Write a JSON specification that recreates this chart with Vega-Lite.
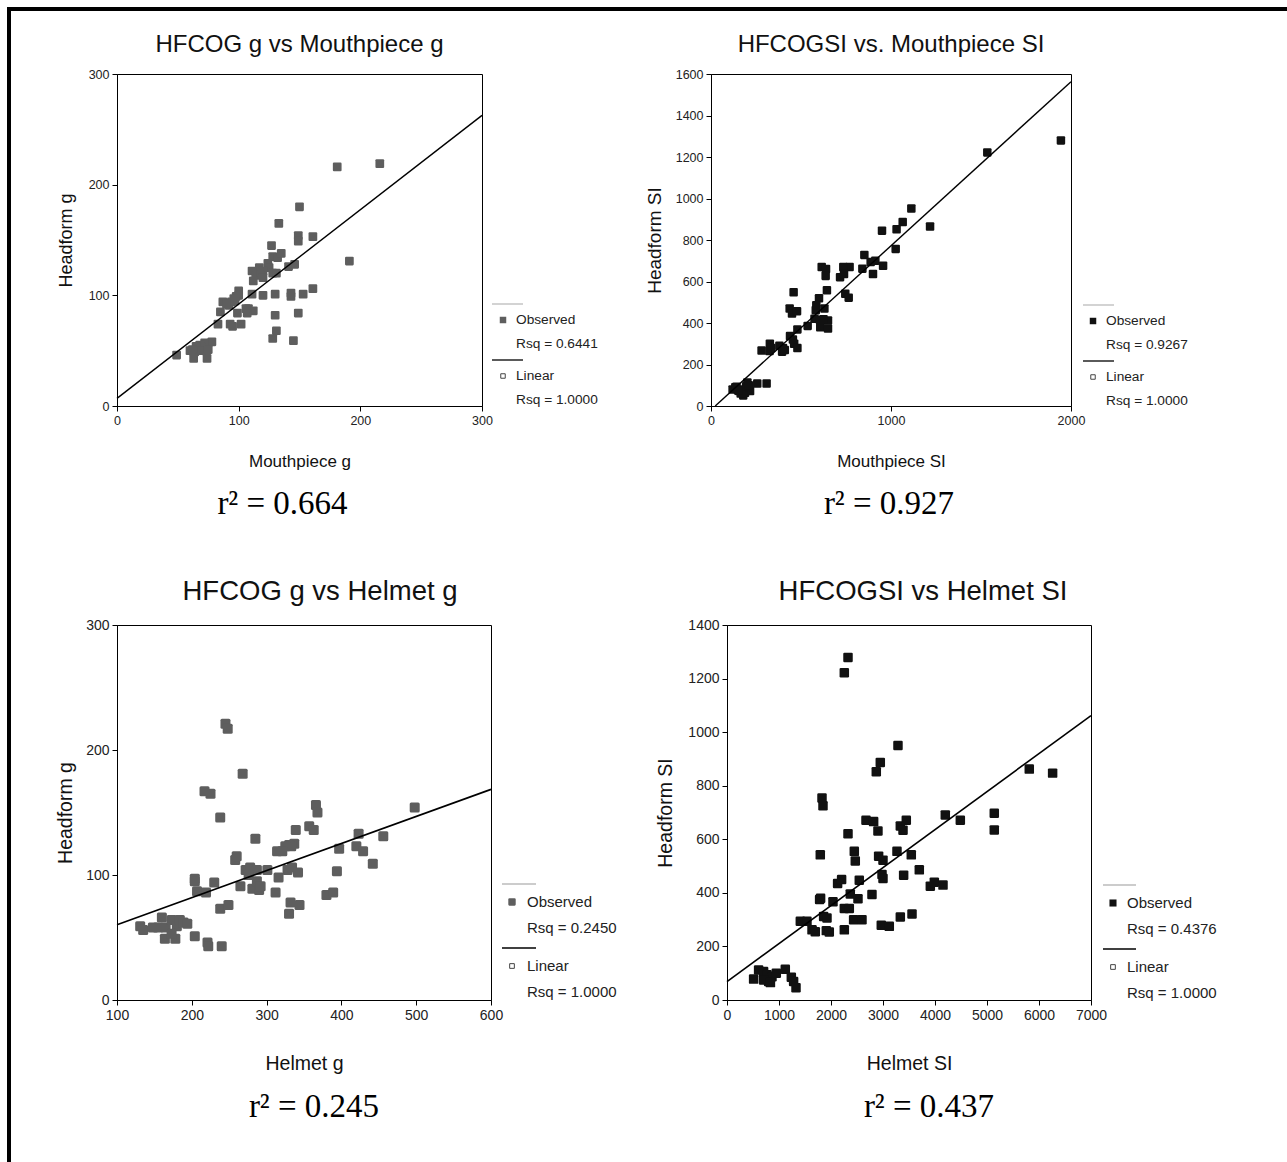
{
  "$schema": "https://vega.github.io/schema/vega-lite/v6.json",
  "background": "white",
  "padding": {"left": 7, "top": 7, "right": 0, "bottom": 0},
  "autosize": {"type": "pad"},
  "config": {
    "view": {"stroke": "black", "strokeWidth": 1},
    "axis": {"domainColor": "black", "tickColor": "black", "labelColor": "#222", "titleColor": "#111", "labelFont": "Liberation Sans", "titleFont": "Liberation Sans", "titleFontWeight": "normal", "grid": false, "tickSize": 5, "labelFontSize": 12.5, "titleFontSize": 17, "labelOverlap": false, "labelFlush": false, "labelPadding": 3, "format": "d"},
    "title": {"font": "Liberation Sans", "fontWeight": "normal", "color": "#111", "frame": "group"}
  },
  "datasets": {
    "empty": [],
    "p1": [{"x":181,"y":216},{"x":216,"y":219},{"x":150,"y":180},{"x":133,"y":165},{"x":149,"y":154},{"x":149,"y":149},{"x":161,"y":153},{"x":127,"y":145},{"x":128,"y":135},{"x":132,"y":134},{"x":135,"y":138},{"x":191,"y":131},{"x":146,"y":128},{"x":141,"y":126},{"x":124,"y":129},{"x":125,"y":125},{"x":117,"y":125},{"x":120,"y":122},{"x":128,"y":120},{"x":111,"y":122},{"x":114,"y":118},{"x":118,"y":119},{"x":112,"y":113},{"x":120,"y":116},{"x":131,"y":120},{"x":143,"y":102},{"x":143,"y":99},{"x":153,"y":101},{"x":161,"y":106},{"x":130,"y":101},{"x":120,"y":100},{"x":111,"y":101},{"x":100,"y":104},{"x":98,"y":99},{"x":96,"y":97},{"x":94,"y":94},{"x":87,"y":94},{"x":92,"y":91},{"x":108,"y":88},{"x":112,"y":86},{"x":107,"y":84},{"x":85,"y":85},{"x":99,"y":84},{"x":130,"y":82},{"x":149,"y":84},{"x":83,"y":74},{"x":93,"y":74},{"x":95,"y":72},{"x":102,"y":74},{"x":131,"y":68},{"x":128,"y":61},{"x":145,"y":59},{"x":78,"y":58},{"x":72,"y":57},{"x":68,"y":55},{"x":70,"y":53},{"x":65,"y":54},{"x":60,"y":50},{"x":64,"y":49},{"x":62,"y":51},{"x":49,"y":46},{"x":63,"y":43},{"x":74,"y":43},{"x":70,"y":50},{"x":75,"y":51},{"x":100,"y":100},{"x":97,"y":95},{"x":90,"y":92},{"x":106,"y":88}],
    "p1fit": [{"x":0,"y":6.9},{"x":300,"y":262.6}],
    "p2": [{"x":1944,"y":1280},{"x":1535,"y":1222},{"x":1113,"y":952},{"x":1065,"y":887},{"x":1031,"y":852},{"x":950,"y":845},{"x":1217,"y":865},{"x":1026,"y":757},{"x":956,"y":676},{"x":913,"y":700},{"x":887,"y":694},{"x":852,"y":728},{"x":841,"y":662},{"x":900,"y":636},{"x":770,"y":670},{"x":735,"y":670},{"x":717,"y":621},{"x":739,"y":636},{"x":615,"y":670},{"x":639,"y":660},{"x":637,"y":627},{"x":644,"y":558},{"x":746,"y":541},{"x":765,"y":522},{"x":600,"y":519},{"x":585,"y":486},{"x":582,"y":462},{"x":630,"y":470},{"x":575,"y":420},{"x":605,"y":415},{"x":650,"y":412},{"x":625,"y":418},{"x":607,"y":379},{"x":650,"y":373},{"x":537,"y":386},{"x":459,"y":548},{"x":437,"y":470},{"x":450,"y":446},{"x":478,"y":457},{"x":480,"y":369},{"x":439,"y":337},{"x":455,"y":320},{"x":462,"y":300},{"x":480,"y":279},{"x":380,"y":290},{"x":395,"y":262},{"x":400,"y":280},{"x":410,"y":270},{"x":327,"y":300},{"x":325,"y":265},{"x":335,"y":280},{"x":281,"y":267},{"x":257,"y":108},{"x":309,"y":108},{"x":120,"y":80},{"x":142,"y":93},{"x":170,"y":80},{"x":189,"y":64},{"x":202,"y":113},{"x":217,"y":72},{"x":179,"y":51},{"x":157,"y":72},{"x":135,"y":90},{"x":165,"y":60},{"x":195,"y":95},{"x":150,"y":75},{"x":210,"y":100}],
    "p2fit": [{"x":23.5,"y":0},{"x":2000,"y":1563}],
    "p3": [{"x":245,"y":221},{"x":248,"y":217},{"x":268,"y":181},{"x":217,"y":167},{"x":225,"y":165},{"x":238,"y":146},{"x":366,"y":156},{"x":368,"y":150},{"x":498,"y":154},{"x":285,"y":129},{"x":357,"y":139},{"x":363,"y":136},{"x":339,"y":136},{"x":337,"y":125},{"x":333,"y":123},{"x":330,"y":124},{"x":325,"y":123},{"x":314,"y":119},{"x":321,"y":119},{"x":423,"y":133},{"x":456,"y":131},{"x":397,"y":121},{"x":420,"y":123},{"x":429,"y":119},{"x":442,"y":109},{"x":258,"y":112},{"x":260,"y":115},{"x":394,"y":103},{"x":272,"y":104},{"x":278,"y":106},{"x":287,"y":104},{"x":276,"y":100},{"x":301,"y":104},{"x":328,"y":104},{"x":334,"y":106},{"x":342,"y":102},{"x":316,"y":98},{"x":265,"y":91},{"x":281,"y":89},{"x":287,"y":95},{"x":290,"y":88},{"x":292,"y":91},{"x":312,"y":86},{"x":204,"y":97},{"x":204,"y":95},{"x":230,"y":94},{"x":207,"y":87},{"x":219,"y":86},{"x":380,"y":84},{"x":389,"y":86},{"x":332,"y":78},{"x":344,"y":76},{"x":330,"y":69},{"x":238,"y":73},{"x":249,"y":76},{"x":131,"y":59},{"x":135,"y":56},{"x":148,"y":58},{"x":155,"y":58},{"x":160,"y":66},{"x":165,"y":58},{"x":173,"y":64},{"x":180,"y":59},{"x":184,"y":64},{"x":189,"y":62},{"x":194,"y":61},{"x":164,"y":49},{"x":178,"y":49},{"x":173,"y":53},{"x":204,"y":51},{"x":221,"y":46},{"x":222,"y":43},{"x":240,"y":43}],
    "p3fit": [{"x":100,"y":60.2},{"x":600,"y":168.5}],
    "p4": [{"x":2327,"y":1279},{"x":2256,"y":1222},{"x":3288,"y":950},{"x":2948,"y":887},{"x":2871,"y":852},{"x":5813,"y":862},{"x":6262,"y":847},{"x":1827,"y":754},{"x":1846,"y":725},{"x":4198,"y":691},{"x":4487,"y":671},{"x":5140,"y":697},{"x":5140,"y":635},{"x":2673,"y":671},{"x":2820,"y":666},{"x":2903,"y":631},{"x":3333,"y":650},{"x":3385,"y":634},{"x":3448,"y":671},{"x":2327,"y":621},{"x":1794,"y":542},{"x":2448,"y":555},{"x":2467,"y":519},{"x":2916,"y":537},{"x":3000,"y":522},{"x":3269,"y":555},{"x":3544,"y":542},{"x":3698,"y":486},{"x":2981,"y":469},{"x":3000,"y":454},{"x":3397,"y":466},{"x":3910,"y":425},{"x":3987,"y":440},{"x":4154,"y":429},{"x":2127,"y":435},{"x":2204,"y":450},{"x":2544,"y":447},{"x":2371,"y":396},{"x":2519,"y":378},{"x":2788,"y":394},{"x":1781,"y":375},{"x":1800,"y":380},{"x":2038,"y":367},{"x":2256,"y":342},{"x":2352,"y":342},{"x":1858,"y":312},{"x":1923,"y":306},{"x":2435,"y":300},{"x":2596,"y":300},{"x":2967,"y":279},{"x":3121,"y":275},{"x":3333,"y":310},{"x":3558,"y":321},{"x":2256,"y":262},{"x":1910,"y":259},{"x":1967,"y":254},{"x":1635,"y":262},{"x":1698,"y":255},{"x":1410,"y":294},{"x":1538,"y":294},{"x":512,"y":78},{"x":608,"y":112},{"x":704,"y":106},{"x":769,"y":94},{"x":800,"y":69},{"x":865,"y":87},{"x":948,"y":100},{"x":1121,"y":115},{"x":1237,"y":85},{"x":1281,"y":69},{"x":1327,"y":46},{"x":704,"y":75},{"x":835,"y":65}],
    "p4fit": [{"x":0,"y":68.6},{"x":7000,"y":1062}]
  },
  "vconcat": [
    {"width": 1280, "height": 4, "view": {"fill": "black", "stroke": null}, "data": {"name": "empty"}, "mark": "point"},
    {
      "hconcat": [
        {"width": 4, "height": 1151, "view": {"fill": "black", "stroke": null}, "data": {"name": "empty"}, "mark": "point"},
        {
          "vconcat": [
            {"width": 1, "height": 21, "view": {"stroke": null}, "data": {"name": "empty"}, "mark": "point"},
            {
              "hconcat": [
                {"width": 106, "height": 332, "view": {"stroke": null}, "data": {"name": "empty"}, "mark": "point"},
                {
                  "width": 365, "height": 332,
                  "title": {"text": "HFCOG g vs Mouthpiece g", "fontSize": 24, "offset": 11},
                  "layer": [
                    {"data": {"name": "p1"}, "mark": {"type": "point", "shape": "M-0.75,-1H0.75Q1,-1,1,-0.75V0.75Q1,1,0.75,1H-0.75Q-1,1,-1,0.75V-0.75Q-1,-1,-0.75,-1Z", "filled": true, "size": 76, "color": "#5e5e5e", "opacity": 1},
                     "encoding": {
                       "x": {"field": "x", "type": "quantitative", "scale": {"domain": [0, 300], "nice": false, "zero": false}, "axis": {"title": "Mouthpiece g", "values": [0, 100, 200, 300], "titleFontSize": 17, "titlePadding": 27}},
                       "y": {"field": "y", "type": "quantitative", "scale": {"domain": [0, 300], "nice": false, "zero": false}, "axis": {"title": "Headform g", "values": [0, 100, 200, 300], "titleFontSize": 18, "titlePadding": 13}}
                     }},
                    {"data": {"name": "p1fit"}, "mark": {"type": "line", "color": "black", "strokeWidth": 1.4},
                     "encoding": {"x": {"field": "x", "type": "quantitative"}, "y": {"field": "y", "type": "quantitative"}}}
                  ]
                },
                {
                  "width": 229, "height": 332, "view": {"stroke": null},
                  "data": {"values": [{"series": "Observed", "label": "Observed", "rsq": "Rsq = 0.6441"}, {"series": "Linear", "label": "Linear", "rsq": "Rsq = 1.0000"}]},
                  "encoding": {"y": {"field": "series", "type": "nominal", "scale": {"type": "point", "domain": ["Observed", "Linear"], "padding": 0, "range": [246, 302]}, "axis": null}},
                  "layer": [
                    {"mark": {"type": "rule", "yOffset": -16, "strokeWidth": 1.3},
                     "encoding": {"x": {"datum": 0.0437, "type": "quantitative", "scale": {"domain": [0, 1]}, "axis": null}, "x2": {"datum": 0.179},
                                  "color": {"field": "series", "type": "nominal", "scale": {"domain": ["Observed", "Linear"], "range": ["#bbbbbb", "#000000"]}, "legend": null}}},
                    {"transform": [{"filter": "datum.series == 'Observed'"}], "mark": {"type": "point", "shape": "square", "filled": true, "size": 42, "color": "#5e5e5e", "opacity": 1},
                     "encoding": {"x": {"datum": 0.0917, "type": "quantitative"}}},
                    {"transform": [{"filter": "datum.series == 'Linear'"}], "mark": {"type": "point", "shape": "square", "filled": false, "size": 20, "color": "#444", "strokeWidth": 1, "opacity": 1},
                     "encoding": {"x": {"datum": 0.0917, "type": "quantitative"}}},
                    {"mark": {"type": "text", "align": "left", "baseline": "middle", "fontSize": 13.7, "font": "Liberation Sans", "color": "#222"},
                     "encoding": {"x": {"datum": 0.1485, "type": "quantitative"}, "text": {"field": "label"}}},
                    {"mark": {"type": "text", "align": "left", "baseline": "middle", "fontSize": 13.7, "font": "Liberation Sans", "color": "#222", "yOffset": 24},
                     "encoding": {"x": {"datum": 0.1485, "type": "quantitative"}, "text": {"field": "rsq"}}}
                  ]
                },
                {
                  "width": 360, "height": 332,
                  "title": {"text": "HFCOGSI vs. Mouthpiece SI", "fontSize": 24, "offset": 11},
                  "layer": [
                    {"data": {"name": "p2"}, "mark": {"type": "point", "shape": "M-0.75,-1H0.75Q1,-1,1,-0.75V0.75Q1,1,0.75,1H-0.75Q-1,1,-1,0.75V-0.75Q-1,-1,-0.75,-1Z", "filled": true, "size": 72, "color": "#111111", "opacity": 1},
                     "encoding": {
                       "x": {"field": "x", "type": "quantitative", "scale": {"domain": [0, 2000], "nice": false, "zero": false}, "axis": {"title": "Mouthpiece SI", "values": [0, 1000, 2000], "titleFontSize": 17, "titlePadding": 27}},
                       "y": {"field": "y", "type": "quantitative", "scale": {"domain": [0, 1600], "nice": false, "zero": false}, "axis": {"title": "Headform SI", "values": [0, 200, 400, 600, 800, 1000, 1200, 1400, 1600], "titleFontSize": 19, "titlePadding": 11}}
                     }},
                    {"data": {"name": "p2fit"}, "mark": {"type": "line", "color": "black", "strokeWidth": 1.4},
                     "encoding": {"x": {"field": "x", "type": "quantitative"}, "y": {"field": "y", "type": "quantitative"}}}
                  ]
                },
                {
                  "width": 216, "height": 332, "view": {"stroke": null},
                  "data": {"values": [{"series": "Observed", "label": "Observed", "rsq": "Rsq = 0.9267"}, {"series": "Linear", "label": "Linear", "rsq": "Rsq = 1.0000"}]},
                  "encoding": {"y": {"field": "series", "type": "nominal", "scale": {"type": "point", "domain": ["Observed", "Linear"], "padding": 0, "range": [247, 303]}, "axis": null}},
                  "layer": [
                    {"mark": {"type": "rule", "yOffset": -16, "strokeWidth": 1.3},
                     "encoding": {"x": {"datum": 0.0556, "type": "quantitative", "scale": {"domain": [0, 1]}, "axis": null}, "x2": {"datum": 0.199},
                                  "color": {"field": "series", "type": "nominal", "scale": {"domain": ["Observed", "Linear"], "range": ["#bbbbbb", "#000000"]}, "legend": null}}},
                    {"transform": [{"filter": "datum.series == 'Observed'"}], "mark": {"type": "point", "shape": "square", "filled": true, "size": 42, "color": "#111111", "opacity": 1},
                     "encoding": {"x": {"datum": 0.1019, "type": "quantitative"}}},
                    {"transform": [{"filter": "datum.series == 'Linear'"}], "mark": {"type": "point", "shape": "square", "filled": false, "size": 20, "color": "#444", "strokeWidth": 1, "opacity": 1},
                     "encoding": {"x": {"datum": 0.1019, "type": "quantitative"}}},
                    {"mark": {"type": "text", "align": "left", "baseline": "middle", "fontSize": 13.7, "font": "Liberation Sans", "color": "#222"},
                     "encoding": {"x": {"datum": 0.162, "type": "quantitative"}, "text": {"field": "label"}}},
                    {"mark": {"type": "text", "align": "left", "baseline": "middle", "fontSize": 13.7, "font": "Liberation Sans", "color": "#222", "yOffset": 24},
                     "encoding": {"x": {"datum": 0.162, "type": "quantitative"}, "text": {"field": "rsq"}}}
                  ]
                }
              ],
              "spacing": 0, "bounds": "flush", "align": "none"
            },
            {
              "hconcat": [
                {"width": 106, "height": 107, "view": {"stroke": null}, "data": {"name": "empty"}, "mark": "point"},
                {"width": 365, "height": 107, "view": {"stroke": null}, "data": {"values": [{"label": "r² = 0.664"}]},
                 "mark": {"type": "text", "font": "Liberation Serif", "fontSize": 33, "dx": -17, "dy": -19.5, "color": "black"},
                 "encoding": {"text": {"field": "label"}}},
                {"width": 229, "height": 107, "view": {"stroke": null}, "data": {"name": "empty"}, "mark": "point"},
                {"width": 360, "height": 107, "view": {"stroke": null}, "data": {"values": [{"label": "r² = 0.927"}]},
                 "mark": {"type": "text", "font": "Liberation Serif", "fontSize": 33, "dx": -2, "dy": -19.5, "color": "black"},
                 "encoding": {"text": {"field": "label"}}}
              ],
              "spacing": 0, "bounds": "flush", "align": "none"
            },
            {
              "hconcat": [
                {"width": 106, "height": 375, "view": {"stroke": null}, "data": {"name": "empty"}, "mark": "point"},
                {
                  "width": 374, "height": 375,
                  "title": {"text": "HFCOG g vs Helmet g", "fontSize": 27.5, "offset": 13, "dx": 16},
                  "layer": [
                    {"data": {"name": "p3"}, "mark": {"type": "point", "shape": "M-0.7,-1H0.7Q1,-1,1,-0.7V0.7Q1,1,0.7,1H-0.7Q-1,1,-1,0.7V-0.7Q-1,-1,-0.7,-1Z", "filled": true, "size": 100, "color": "#5e5e5e", "opacity": 1},
                     "encoding": {
                       "x": {"field": "x", "type": "quantitative", "scale": {"domain": [100, 600], "nice": false, "zero": false}, "axis": {"title": "Helmet g", "values": [100, 200, 300, 400, 500, 600], "labelFontSize": 14, "titleFontSize": 19.5, "titlePadding": 32}},
                       "y": {"field": "y", "type": "quantitative", "scale": {"domain": [0, 300], "nice": false, "zero": false}, "axis": {"title": "Headform g", "values": [0, 100, 200, 300], "labelFontSize": 14, "titleFontSize": 19.5, "titlePadding": 10}}
                     }},
                    {"data": {"name": "p3fit"}, "mark": {"type": "line", "color": "black", "strokeWidth": 1.6},
                     "encoding": {"x": {"field": "x", "type": "quantitative"}, "y": {"field": "y", "type": "quantitative"}}}
                  ]
                },
                {
                  "width": 236, "height": 375, "view": {"stroke": null},
                  "data": {"values": [{"series": "Observed", "label": "Observed", "rsq": "Rsq = 0.2450"}, {"series": "Linear", "label": "Linear", "rsq": "Rsq = 1.0000"}]},
                  "encoding": {"y": {"field": "series", "type": "nominal", "scale": {"type": "point", "domain": ["Observed", "Linear"], "padding": 0, "range": [277, 341]}, "axis": null}},
                  "layer": [
                    {"mark": {"type": "rule", "yOffset": -18, "strokeWidth": 1.4},
                     "encoding": {"x": {"datum": 0.0466, "type": "quantitative", "scale": {"domain": [0, 1]}, "axis": null}, "x2": {"datum": 0.1907},
                                  "color": {"field": "series", "type": "nominal", "scale": {"domain": ["Observed", "Linear"], "range": ["#bbbbbb", "#000000"]}, "legend": null}}},
                    {"transform": [{"filter": "datum.series == 'Observed'"}], "mark": {"type": "point", "shape": "M-0.7,-1H0.7Q1,-1,1,-0.7V0.7Q1,1,0.7,1H-0.7Q-1,1,-1,0.7V-0.7Q-1,-1,-0.7,-1Z", "filled": true, "size": 55, "color": "#5e5e5e", "opacity": 1},
                     "encoding": {"x": {"datum": 0.089, "type": "quantitative"}}},
                    {"transform": [{"filter": "datum.series == 'Linear'"}], "mark": {"type": "point", "shape": "square", "filled": false, "size": 22, "color": "#444", "strokeWidth": 1, "opacity": 1},
                     "encoding": {"x": {"datum": 0.089, "type": "quantitative"}}},
                    {"mark": {"type": "text", "align": "left", "baseline": "middle", "fontSize": 15, "font": "Liberation Sans", "color": "#222"},
                     "encoding": {"x": {"datum": 0.1525, "type": "quantitative"}, "text": {"field": "label"}}},
                    {"mark": {"type": "text", "align": "left", "baseline": "middle", "fontSize": 15, "font": "Liberation Sans", "color": "#222", "yOffset": 26},
                     "encoding": {"x": {"datum": 0.1525, "type": "quantitative"}, "text": {"field": "rsq"}}}
                  ]
                },
                {
                  "width": 364, "height": 375,
                  "title": {"text": "HFCOGSI vs Helmet SI", "fontSize": 27.5, "offset": 13, "dx": 14},
                  "layer": [
                    {"data": {"name": "p4"}, "mark": {"type": "point", "shape": "M-0.75,-1H0.75Q1,-1,1,-0.75V0.75Q1,1,0.75,1H-0.75Q-1,1,-1,0.75V-0.75Q-1,-1,-0.75,-1Z", "filled": true, "size": 90, "color": "#111111", "opacity": 1},
                     "encoding": {
                       "x": {"field": "x", "type": "quantitative", "scale": {"domain": [0, 7000], "nice": false, "zero": false}, "axis": {"title": "Helmet SI", "values": [0, 1000, 2000, 3000, 4000, 5000, 6000, 7000], "labelFontSize": 14, "titleFontSize": 19.5, "titlePadding": 32}},
                       "y": {"field": "y", "type": "quantitative", "scale": {"domain": [0, 1400], "nice": false, "zero": false}, "axis": {"title": "Headform SI", "values": [0, 200, 400, 600, 800, 1000, 1200, 1400], "labelFontSize": 14, "titleFontSize": 19.5, "titlePadding": 12}}
                     }},
                    {"data": {"name": "p4fit"}, "mark": {"type": "line", "color": "black", "strokeWidth": 1.6},
                     "encoding": {"x": {"field": "x", "type": "quantitative"}, "y": {"field": "y", "type": "quantitative"}}}
                  ]
                },
                {
                  "width": 196, "height": 375, "view": {"stroke": null},
                  "data": {"values": [{"series": "Observed", "label": "Observed", "rsq": "Rsq = 0.4376"}, {"series": "Linear", "label": "Linear", "rsq": "Rsq = 1.0000"}]},
                  "encoding": {"y": {"field": "series", "type": "nominal", "scale": {"type": "point", "domain": ["Observed", "Linear"], "padding": 0, "range": [278, 342]}, "axis": null}},
                  "layer": [
                    {"mark": {"type": "rule", "yOffset": -18, "strokeWidth": 1.4},
                     "encoding": {"x": {"datum": 0.0612, "type": "quantitative", "scale": {"domain": [0, 1]}, "axis": null}, "x2": {"datum": 0.2296},
                                  "color": {"field": "series", "type": "nominal", "scale": {"domain": ["Observed", "Linear"], "range": ["#bbbbbb", "#000000"]}, "legend": null}}},
                    {"transform": [{"filter": "datum.series == 'Observed'"}], "mark": {"type": "point", "shape": "square", "filled": true, "size": 50, "color": "#111111", "opacity": 1},
                     "encoding": {"x": {"datum": 0.1122, "type": "quantitative"}}},
                    {"transform": [{"filter": "datum.series == 'Linear'"}], "mark": {"type": "point", "shape": "square", "filled": false, "size": 22, "color": "#444", "strokeWidth": 1, "opacity": 1},
                     "encoding": {"x": {"datum": 0.1122, "type": "quantitative"}}},
                    {"mark": {"type": "text", "align": "left", "baseline": "middle", "fontSize": 15, "font": "Liberation Sans", "color": "#222"},
                     "encoding": {"x": {"datum": 0.1837, "type": "quantitative"}, "text": {"field": "label"}}},
                    {"mark": {"type": "text", "align": "left", "baseline": "middle", "fontSize": 15, "font": "Liberation Sans", "color": "#222", "yOffset": 26},
                     "encoding": {"x": {"datum": 0.1837, "type": "quantitative"}, "text": {"field": "rsq"}}}
                  ]
                }
              ],
              "spacing": 0, "bounds": "flush", "align": "none"
            },
            {
              "hconcat": [
                {"width": 106, "height": 78, "view": {"stroke": null}, "data": {"name": "empty"}, "mark": "point"},
                {"width": 374, "height": 78, "view": {"stroke": null}, "data": {"values": [{"label": "r² = 0.245"}]},
                 "mark": {"type": "text", "font": "Liberation Serif", "fontSize": 33, "dx": 10, "dy": -5.5, "color": "black"},
                 "encoding": {"text": {"field": "label"}}},
                {"width": 236, "height": 78, "view": {"stroke": null}, "data": {"name": "empty"}, "mark": "point"},
                {"width": 364, "height": 78, "view": {"stroke": null}, "data": {"values": [{"label": "r² = 0.437"}]},
                 "mark": {"type": "text", "font": "Liberation Serif", "fontSize": 33, "dx": 20, "dy": -5.5, "color": "black"},
                 "encoding": {"text": {"field": "label"}}}
              ],
              "spacing": 0, "bounds": "flush", "align": "none"
            }
          ],
          "spacing": 0, "align": "none"
        }
      ],
      "spacing": 0, "align": "none"
    }
  ],
  "spacing": 0, "align": "none"
}
